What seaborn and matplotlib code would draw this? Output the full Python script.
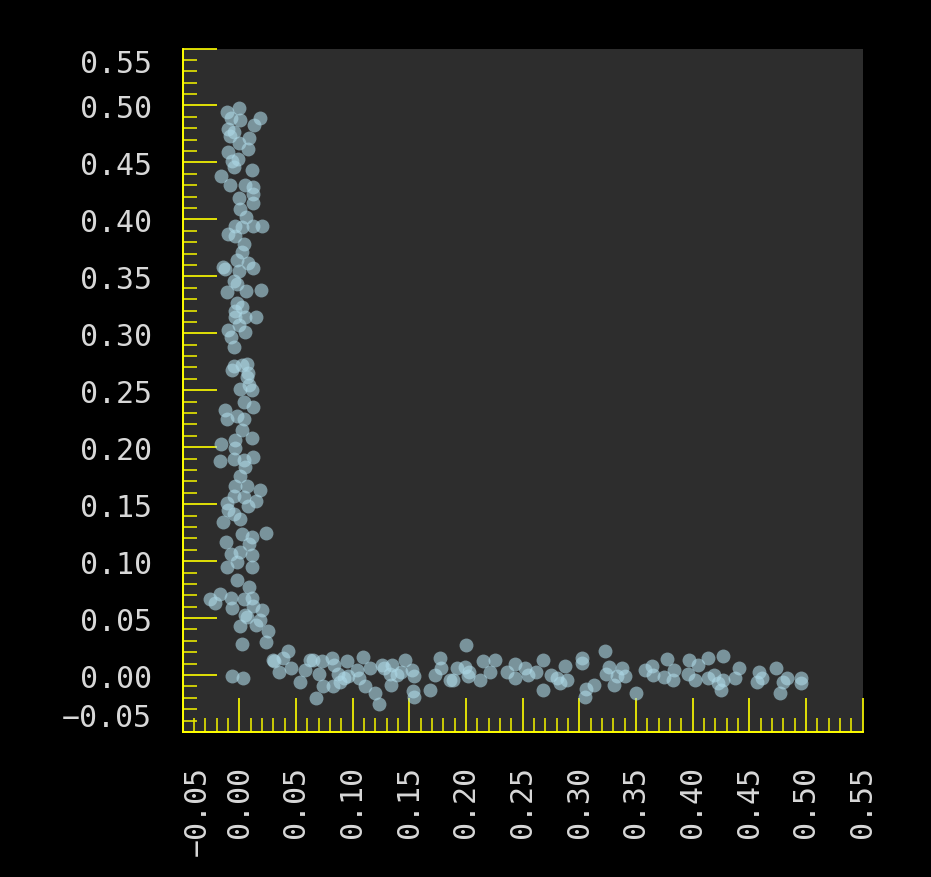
import matplotlib
matplotlib.use("Agg")
import matplotlib.pyplot as plt
from matplotlib.ticker import MultipleLocator
import seaborn as sns
import pandas as pd

# points of the vertical arm (x near 0)
x_vert = [0.000, -0.011, 0.018, -0.007, 0.001, 0.013, -0.010, -0.005, -0.008, 0.009,
          0.000, 0.008, -0.010, -0.001, -0.006, -0.005, 0.011, -0.016, -0.008, 0.005,
          0.012, 0.012, 0.000, 0.012, 0.001, 0.006, -0.004, 0.002, 0.012, 0.020,
          -0.010, -0.004, 0.004, 0.002, -0.002, 0.008, -0.014, -0.013, 0.012, 0.000,
          -0.005, -0.002, -0.011, 0.006, 0.019, -0.002, 0.002, -0.004, 0.005, 0.015,
          -0.004, 0.000, -0.010, 0.005, -0.007, -0.005, -0.005, 0.002, 0.007, 0.008,
          -0.006, 0.007, 0.009, 0.001, 0.011, 0.004, -0.013, 0.012, -0.011, -0.002,
          0.004, 0.002, 0.011, -0.016, -0.004, -0.004, -0.017, -0.005, 0.004, 0.012,
          0.005, 0.001, -0.004, 0.007, 0.018, -0.005, 0.004, -0.011, 0.015, 0.008,
          -0.010, -0.005, 0.001, -0.014, 0.024, 0.002, 0.011, -0.012, 0.009, 0.001,
          -0.007, 0.011, -0.011, -0.002, 0.011, -0.002, 0.009, -0.026, -0.017, -0.021,
          -0.007, 0.004, 0.011, 0.012, -0.006, 0.020, 0.005, 0.007, 0.018, 0.001,
          0.015, 0.025, 0.002, 0.024, 0.031, -0.006, 0.003]
y_vert = [0.498, 0.494, 0.489, 0.489, 0.487, 0.483, 0.479, 0.477, 0.473, 0.471,
          0.467, 0.462, 0.459, 0.453, 0.451, 0.446, 0.443, 0.438, 0.430, 0.430,
          0.428, 0.422, 0.419, 0.414, 0.409, 0.402, 0.394, 0.393, 0.394, 0.394,
          0.387, 0.385, 0.378, 0.371, 0.364, 0.362, 0.358, 0.356, 0.357, 0.355,
          0.346, 0.343, 0.336, 0.337, 0.338, 0.327, 0.323, 0.320, 0.314, 0.314,
          0.314, 0.307, 0.303, 0.301, 0.297, 0.288, 0.271, 0.272, 0.273, 0.265,
          0.268, 0.262, 0.255, 0.251, 0.250, 0.240, 0.233, 0.235, 0.225, 0.227,
          0.225, 0.215, 0.208, 0.203, 0.206, 0.199, 0.188, 0.190, 0.189, 0.191,
          0.183, 0.175, 0.166, 0.166, 0.162, 0.157, 0.156, 0.151, 0.153, 0.148,
          0.145, 0.141, 0.137, 0.134, 0.125, 0.124, 0.121, 0.117, 0.115, 0.108,
          0.106, 0.105, 0.095, 0.099, 0.095, 0.083, 0.077, 0.067, 0.071, 0.063,
          0.068, 0.067, 0.068, 0.061, 0.059, 0.057, 0.053, 0.051, 0.048, 0.043,
          0.044, 0.039, 0.027, 0.029, 0.012, -0.001, -0.003]

# points of the horizontal arm (y near 0)
x_horiz = [0.043, 0.030, 0.039, 0.046, 0.035, 0.054, 0.058, 0.062, 0.065, 0.073,
           0.070, 0.074, 0.068, 0.082, 0.084, 0.083, 0.087, 0.092, 0.096, 0.095,
           0.089, 0.104, 0.106, 0.109, 0.111, 0.115, 0.120, 0.123, 0.126, 0.128,
           0.135, 0.133, 0.139, 0.134, 0.143, 0.146, 0.152, 0.154, 0.153, 0.154,
           0.168, 0.173, 0.178, 0.177, 0.186, 0.200, 0.189, 0.192, 0.199, 0.203,
           0.202, 0.212, 0.215, 0.221, 0.226, 0.236, 0.243, 0.243, 0.252, 0.255,
           0.262, 0.268, 0.268, 0.275, 0.280, 0.283, 0.287, 0.289, 0.302, 0.302,
           0.306, 0.305, 0.313, 0.323, 0.326, 0.324, 0.333, 0.331, 0.338, 0.340,
           0.350, 0.358, 0.364, 0.365, 0.377, 0.375, 0.383, 0.384, 0.397, 0.396,
           0.405, 0.402, 0.414, 0.427, 0.414, 0.419, 0.422, 0.425, 0.427, 0.437,
           0.441, 0.459, 0.461, 0.457, 0.474, 0.480, 0.483, 0.477, 0.496, 0.496]
y_horiz = [0.021, 0.013, 0.015, 0.006, 0.003, -0.006, 0.004, 0.013, 0.013, 0.012,
           0.001, -0.010, -0.020, 0.015, 0.009, -0.010, 0.001, -0.003, -0.001, 0.012,
           -0.006, 0.004, -0.003, 0.016, -0.010, 0.006, -0.016, -0.025, 0.009, 0.006,
           0.009, 0.001, 0.000, -0.009, 0.003, 0.013, 0.004, -0.001, -0.014, -0.019,
           -0.013, 0.000, 0.006, 0.015, -0.004, 0.026, -0.004, 0.006, 0.007, 0.003,
           -0.001, -0.004, 0.012, 0.003, 0.013, 0.003, 0.010, -0.003, 0.006, 0.000,
           0.003, 0.013, -0.013, 0.000, -0.003, -0.007, 0.008, -0.004, 0.015, 0.011,
           -0.012, -0.019, -0.009, 0.021, 0.007, 0.001, -0.001, -0.009, 0.006, -0.001,
           -0.016, 0.004, 0.008, 0.000, 0.014, -0.002, -0.004, 0.004, 0.013, 0.001,
           0.009, -0.004, 0.015, 0.017, -0.003, 0.000, -0.007, -0.013, -0.004, -0.003,
           0.006, 0.003, -0.003, -0.006, 0.006, -0.006, -0.003, -0.016, -0.003, -0.007]

tick_vals = [-0.05, 0.00, 0.05, 0.10, 0.15, 0.20, 0.25, 0.30, 0.35, 0.40, 0.45, 0.50, 0.55]
tick_labels = [f"{t:.2f}".replace("-", "\u2212") for t in tick_vals]

df = pd.DataFrame({"x": x_vert + x_horiz, "y": y_vert + y_horiz})

yellow = "#ffff00"
txt_col = "#d8d8d8"

fig = plt.figure(figsize=(9.31, 8.78), dpi=100, facecolor="black")
ax = fig.add_axes([182.6 / 931, (878 - 733) / 878, 680 / 931, 683.5 / 878])
ax.set_facecolor("#2d2d2d")

sns.scatterplot(data=df, x="x", y="y", ax=ax, color="#add8e6", alpha=0.6,
                s=100, linewidth=0, zorder=2)

ax.set_xlim(-0.05, 0.55)
ax.set_ylim(-0.05, 0.55)
ax.set_xlabel("")
ax.set_ylabel("")

for side in ["top", "right"]:
    ax.spines[side].set_visible(False)
for side in ["left", "bottom"]:
    ax.spines[side].set_color(yellow)
    ax.spines[side].set_linewidth(1.4)

ax.set_xticks(tick_vals, labels=tick_labels, rotation=90)
ax.set_yticks(tick_vals, labels=tick_labels)
ax.xaxis.set_minor_locator(MultipleLocator(0.01))
ax.yaxis.set_minor_locator(MultipleLocator(0.01))

ax.tick_params(which="major", direction="in", length=24.5, width=1.2, color=yellow,
               labelcolor=txt_col, labelsize=21.5)
ax.tick_params(which="minor", direction="in", length=10, width=1.2, color="#e6e600")
ax.tick_params(axis="x", which="major", pad=24)
ax.tick_params(axis="y", which="major", pad=22)

for lbl in ax.get_xticklabels() + ax.get_yticklabels():
    lbl.set_family("DejaVu Sans Mono")

# end labels are kept inside the axis span
xt = ax.xaxis.get_major_ticks()
xt[0].label1.set_horizontalalignment("left")
yt = ax.yaxis.get_major_ticks()
yt[0].label1.set_verticalalignment("bottom")
yt[-1].label1.set_verticalalignment("top")

fig.savefig("out.png", dpi=100, facecolor="black")
